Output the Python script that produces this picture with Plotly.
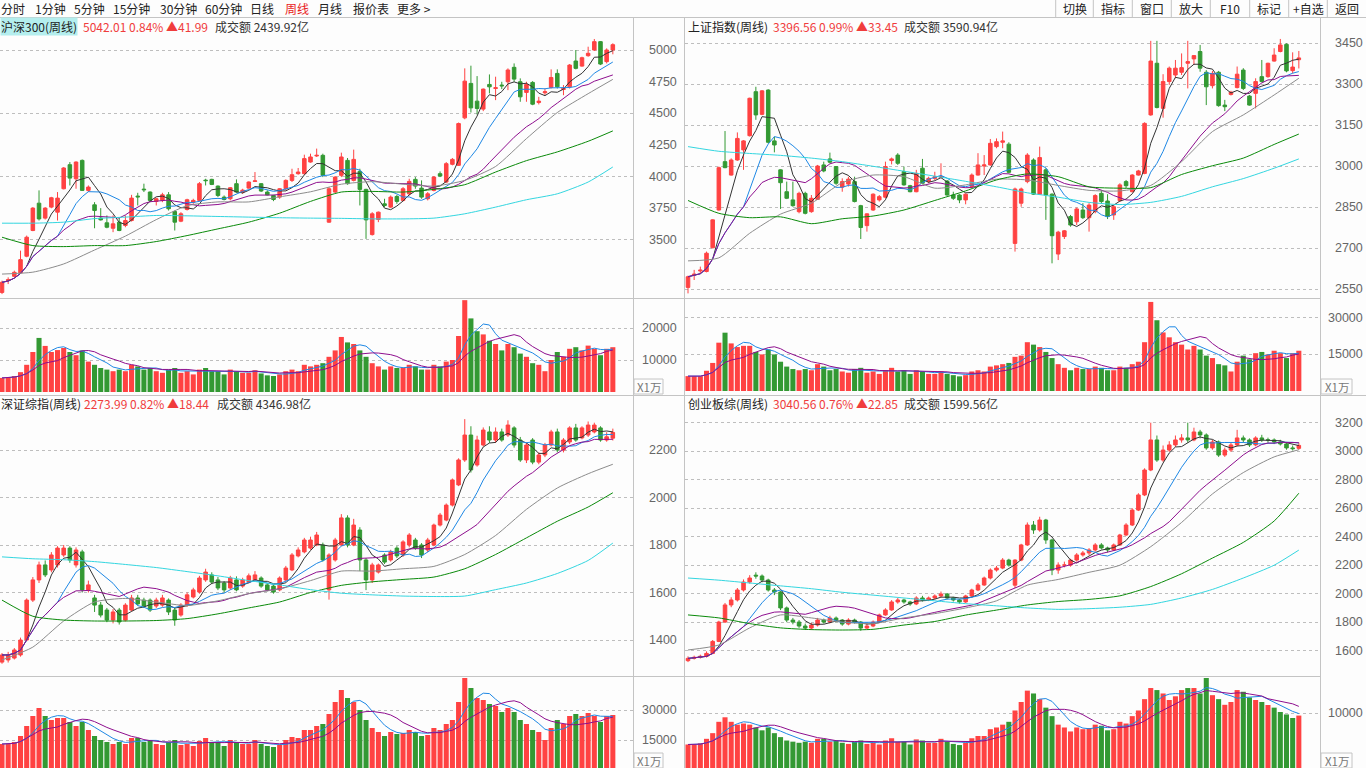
import plotly.graph_objects as go
import pandas as pd

W, H = 1366, 768

# ---------------- 沪深300 (top-left) ----------------
hs_open = [3085,3178,3212,3239,3371,3574,3790,3672,3759,3719,3904,4094,3983,4128,3891,3777,3672,3635,3592,3640,
           3614,3653,3846,3901,3878,3804,3812,3856,3724,3648,3740,3798,3812,3972,3978,3925,3838,3825,3944,3878,
           3909,3962,3944,3878,3851,3838,3904,3970,4023,4023,4115,4163,4168,3640,3878,4010,4128,3970,4041,3899,
           3542,3661,3785,3759,3843,3812,3864,3978,3909,3825,3891,4023,3957,4097,4089,4464,4736,4596,4533,4728,
           4696,4723,4749,4863,4749,4665,4744,4585,4662,4704,4815,4688,4709,4913,4873,4955,5000,5066,4908,5000]
hs_high = [3178,3204,3257,3415,3534,3759,3891,3759,3840,3878,4075,4115,4120,4135,3930,3798,3751,3693,3693,3680,
           3693,3856,3872,3944,3883,3833,3872,3878,3732,3719,3825,3825,3957,3983,3983,3930,3851,3917,3978,3904,
           3962,4036,3949,3891,3856,3909,3978,4062,4068,4173,4181,4221,4181,3917,4004,4189,4147,4213,4062,3904,
           3719,3724,3825,3851,3856,3917,3983,3996,3970,3878,4004,4041,4115,4147,4427,4855,4876,4794,4696,4807,
           4789,4749,4855,4894,4776,4749,4754,4630,4696,4847,4847,4723,4889,5000,4947,5026,5087,5071,5013,5053]
hs_low = [3072,3151,3204,3235,3363,3569,3653,3661,3750,3653,3899,3930,3904,3886,3878,3592,3653,3592,3561,3569,
          3600,3645,3772,3878,3798,3772,3798,3732,3574,3640,3732,3785,3806,3930,3933,3838,3812,3812,3872,3864,
          3904,3957,3878,3851,3806,3825,3891,3957,4015,4015,4110,4155,3996,3635,3870,3996,3936,3962,3772,3508,
          3534,3640,3759,3751,3785,3804,3851,3904,3825,3812,3883,3996,3949,4089,4084,4453,4506,4490,4517,4657,
          4604,4691,4683,4749,4591,4591,4564,4570,4643,4696,4696,4643,4696,4847,4868,4947,4992,4881,4894,4966]
hs_close = [3165,3185,3244,3344,3521,3751,3666,3751,3833,3830,4068,3988,4115,3891,3917,3732,3658,3600,3627,3574,
            3653,3830,3840,3896,3812,3825,3856,3746,3640,3706,3817,3812,3944,3968,3938,3851,3819,3912,3878,3893,
            3957,3966,3886,3856,3819,3904,3970,4015,4036,4142,4155,4168,4010,3904,3996,4155,3944,4136,3899,3658,
            3706,3719,3772,3838,3804,3904,3962,3925,3838,3864,3996,4004,4102,4136,4419,4754,4543,4538,4691,4709,
            4702,4717,4842,4770,4630,4728,4572,4596,4670,4783,4709,4696,4881,4855,4939,4974,5066,4889,5000.02,5042.01]
hs_vol = [4400,4600,5000,6200,8500,12500,16900,14400,12500,13100,13750,12500,11500,13000,9500,8500,7500,7000,6500,7000,
          6500,8500,8000,7000,7500,6500,6000,7000,7500,6000,6500,5500,7000,7500,6500,6500,5500,7000,6500,6000,
          6000,6800,5800,5200,5000,5500,6500,7000,6500,8500,8000,8500,9000,11000,13000,17200,15500,15000,13000,11000,
          9000,8000,7000,8000,7500,7500,8500,8000,7000,7000,8500,8000,9500,10000,17500,28700,23000,19000,18000,16000,
          15000,13000,15000,14000,12000,11000,9000,8500,6500,10000,12500,11000,13500,14000,13000,14500,13500,11500,13500,14000]

# sampled long moving averages (every 5th week + last)
ma_idx = [0,5,10,15,20,25,30,35,40,45,50,55,60,65,70,75,80,85,90,95,99]
hs_ma30 = [3230,3245,3310,3420,3530,3660,3770,3800,3800,3840,3880,3940,3960,3940,3925,3970,4080,4300,4506,4655,4768]
hs_ma60 = [3521,3455,3447,3455,3455,3487,3534,3587,3640,3711,3804,3878,3883,3878,3899,3936,4036,4126,4195,4279,4361]
hs_ma120 = [3632,3632,3640,3668,3680,3693,3690,3685,3680,3675,3672,3670,3666,3666,3672,3706,3759,3817,3864,3957,4076]

# ---------------- 上证指数 (top-right) ----------------
sh_open = [2557,2602,2617,2615,2702,2840,3017,2968,3023,3060,3112,3273,3190,3279,3093,2987,2907,2877,2834,2901,
           2834,2879,3005,3027,2999,2924,2935,2944,2856,2783,2840,2877,2887,3021,3041,2981,2929,2907,2993,2944,
           2956,2960,2946,2895,2895,2877,2926,2968,3001,3005,3072,3088,3081,2718,2865,2944,3023,2898,2987,2898,
           2679,2743,2816,2797,2840,2812,2834,2901,2873,2822,2874,2944,2907,2968,2974,3188,3377,3212,3310,3334,
           3344,3377,3393,3420,3344,3295,3344,3224,3263,3288,3352,3257,3267,3328,3328,3385,3420,3446,3350,3390]
sh_high = [2600,2621,2633,2688,2806,2999,3129,3029,3124,3096,3251,3291,3279,3282,3108,2989,2944,2944,2907,2907,
           2895,3005,3017,3050,3001,2956,2962,2962,2859,2828,2901,2895,3017,3032,3048,2999,2932,2987,3027,2962,
           2980,3011,2950,2907,2898,2901,2974,3048,3041,3100,3102,3127,3088,2922,2922,3048,3029,3072,2993,2901,
           2764,2767,2822,2849,2865,2865,2898,2913,2898,2858,2938,2950,2971,2987,3161,3459,3459,3337,3365,3389,
           3413,3459,3407,3444,3352,3349,3349,3243,3276,3365,3359,3261,3322,3389,3379,3432,3466,3450,3417,3422]
sh_low = [2535,2584,2609,2612,2700,2838,2993,2966,3020,2987,3109,3170,3187,3084,3051,2844,2880,2852,2828,2824,
          2830,2877,2978,3011,2932,2907,2926,2868,2734,2761,2837,2871,2883,3007,3005,2929,2905,2905,2934,2938,
          2950,2956,2893,2877,2865,2861,2920,2966,2968,3002,3066,3066,2974,2688,2852,2938,2895,2895,2804,2645,
          2657,2734,2779,2785,2807,2761,2828,2865,2807,2804,2871,2920,2905,2966,2971,3185,3212,3178,3298,3322,
          3334,3285,3371,3346,3224,3285,3218,3202,3259,3285,3279,3222,3212,3307,3324,3383,3417,3344,3340,3358]
sh_close = [2596,2605,2620,2682,2804,2995,2995,3023,3102,3093,3249,3188,3276,3088,3078,2940,2883,2856,2901,2828,
            2883,3001,2983,3015,2938,2944,2953,2871,2776,2826,2898,2889,2999,3027,3011,2932,2907,2974,2938,2956,
            2962,2962,2895,2883,2877,2898,2968,3005,3005,3084,3090,3093,2978,2917,2917,3041,2898,3032,2895,2746,
            2759,2764,2785,2844,2812,2858,2893,2871,2816,2852,2932,2929,2968,2983,3157,3385,3215,3310,3359,3359,
            3361,3383,3405,3359,3291,3340,3222,3218,3271,3337,3285,3224,3310,3310,3377,3407,3444,3349,3363.11,3396.56]
sh_vol = [6100,6100,6100,8300,11500,19800,23900,19500,18000,18500,18500,16000,15000,17000,15000,12000,10000,9000,8500,9000,
          8500,11000,10000,8500,9000,8000,7500,9000,9500,7500,8000,7000,8500,9500,8000,8500,7000,8500,8000,7000,
          7000,8000,7000,6500,6000,6500,8000,8500,8000,10000,10500,11000,11500,14000,14500,20000,19000,18000,16000,13500,
          11000,9500,8500,9500,9000,9000,10000,9500,8500,8500,10000,9500,11000,12000,20000,36500,29000,24000,22000,20000,
          19000,17000,18500,17000,14500,13500,11000,10500,8000,12000,14500,13000,15500,16000,15000,16500,15500,13500,15500,16500]
sh_ma30 = [2654,2665,2755,2825,2865,2940,2968,2962,2920,2932,2953,2950,2930,2912,2910,2930,3017,3127,3188,3261,3322]
sh_ma60 = [2875,2828,2812,2815,2790,2808,2818,2840,2875,2910,2950,2972,2962,2925,2920,2922,2970,3002,3030,3080,3118]
sh_ma120 = [3072,3055,3047,3040,3030,3017,3000,2982,2964,2945,2925,2903,2887,2868,2860,2868,2890,2925,2955,2993,3027]

# ---------------- 深证综指 (bottom-left) ----------------
sz_open = [1307,1316,1324,1337,1400,1568,1653,1716,1695,1716,1758,1787,1716,1771,1611,1577,1547,1526,1484,1526,
           1484,1526,1577,1568,1568,1543,1547,1568,1526,1505,1547,1581,1602,1653,1674,1653,1640,1619,1653,1627,
           1644,1653,1661,1632,1627,1611,1653,1695,1754,1771,1787,1800,1800,1611,1737,1800,1914,1800,1863,1737,
           1653,1686,1758,1737,1787,1758,1800,1821,1800,1779,1800,1884,1905,1968,2053,2158,2263,2137,2221,2276,
           2242,2276,2263,2293,2242,2158,2242,2149,2179,2221,2276,2200,2234,2293,2251,2263,2276,2293,2242,2250]
sz_high = [1345,1350,1366,1410,1575,1665,1730,1735,1770,1795,1800,1795,1790,1780,1650,1590,1560,1535,1530,1535,
           1555,1590,1590,1578,1575,1578,1590,1575,1535,1555,1600,1620,1670,1700,1685,1665,1648,1670,1668,1662,
           1680,1690,1668,1640,1632,1668,1712,1766,1790,1830,1835,1855,1810,1765,1830,1930,1925,1910,1875,1745,
           1725,1722,1765,1780,1795,1820,1850,1830,1808,1830,1890,1935,1975,2080,2165,2330,2300,2260,2295,2300,
           2295,2290,2325,2300,2255,2230,2250,2190,2230,2285,2290,2250,2300,2310,2300,2320,2315,2300,2275,2290]
sz_low = [1300,1305,1318,1330,1395,1560,1640,1665,1685,1705,1750,1725,1705,1600,1600,1518,1495,1475,1470,1465,
          1478,1520,1545,1535,1518,1535,1540,1505,1460,1498,1540,1575,1595,1645,1635,1610,1600,1612,1605,1620,
          1638,1648,1620,1605,1595,1605,1648,1690,1748,1765,1780,1795,1730,1570,1730,1795,1790,1795,1690,1610,
          1640,1680,1720,1730,1745,1750,1790,1780,1745,1770,1795,1878,1900,1962,2048,2150,2105,2130,2215,2230,
          2230,2235,2255,2210,2150,2145,2140,2140,2170,2215,2190,2190,2225,2235,2245,2255,2270,2235,2235,2240]
sz_close = [1337,1337,1358,1400,1568,1653,1716,1674,1758,1787,1787,1737,1779,1611,1632,1547,1505,1484,1518,1476,
            1547,1577,1552,1543,1526,1568,1577,1518,1484,1547,1590,1611,1661,1686,1644,1619,1611,1661,1611,1653,
            1670,1674,1627,1611,1602,1661,1703,1758,1779,1821,1821,1842,1737,1758,1821,1914,1800,1884,1737,1653,
            1716,1716,1728,1771,1754,1813,1842,1787,1758,1821,1884,1926,1968,2074,2158,2263,2116,2242,2284,2242,
            2276,2242,2305,2221,2158,2221,2149,2179,2221,2276,2200,2242,2293,2242,2293,2305,2305,2242,2255.55,2273.99]
sz_vol = [13000,13000,14000,17000,22000,27000,31000,27000,25000,26000,26000,24000,22000,24000,20000,17000,15000,14000,13000,14000,
          13000,16000,16000,14000,15000,13000,12500,14000,15000,12500,13000,12000,14500,16000,14000,14000,12000,15000,14000,13000,
          13000,15000,13000,12000,11500,12500,15000,16500,16000,20000,20000,22000,23000,28000,34000,40000,36000,34000,30000,25000,
          21000,19000,17000,19000,18000,18500,20000,19000,17000,17500,21000,20000,23000,25000,34000,46000,41000,36000,35000,33000,
          32000,29000,31000,29000,25000,23000,20000,19000,15000,21000,25000,23000,27000,28000,27000,28500,27000,24000,27000,27500]
sz_ma30 = [1316,1370,1480,1560,1575,1560,1545,1565,1595,1615,1650,1690,1690,1700,1710,1760,1840,1950,2040,2100,2140]
sz_ma60 = [1568,1500,1484,1480,1480,1482,1490,1510,1535,1560,1600,1630,1645,1655,1665,1700,1760,1830,1900,1960,2020]
sz_ma120 = [1750,1742,1738,1730,1718,1705,1688,1670,1650,1632,1612,1597,1590,1585,1583,1585,1612,1640,1680,1735,1808]

# ---------------- 创业板综 (bottom-right) ----------------
cy_open = [1530,1546,1553,1560,1581,1665,1801,1921,1956,2026,2082,2130,2124,2096,2026,2012,1900,1815,1801,1773,
           1759,1780,1815,1801,1829,1815,1787,1815,1801,1759,1773,1801,1851,1886,1942,1956,1942,1928,1970,1956,
           1970,1984,1998,1970,1956,1942,1984,2026,2061,2110,2166,2180,2236,2060,2236,2342,2482,2447,2517,2377,
           2166,2201,2201,2236,2272,2286,2307,2342,2321,2307,2342,2412,2482,2587,2693,2868,3079,2938,3008,3044,
           3079,3093,3079,3135,3114,3023,3065,2973,3008,3044,3093,3079,3044,3093,3079,3079,3065,3051,3023,3020]
cy_high = [1560,1565,1572,1595,1675,1810,1935,1975,2040,2100,2130,2150,2135,2105,2040,2020,1910,1830,1815,1790,
           1795,1830,1825,1845,1840,1822,1828,1825,1808,1790,1812,1860,1898,1955,1972,1965,1950,1982,1985,1980,
           1995,2015,2005,1978,1962,1992,2035,2075,2120,2178,2195,2250,2245,2242,2350,2500,2510,2540,2525,2385,
           2220,2225,2245,2285,2300,2320,2355,2355,2330,2352,2420,2495,2600,2705,2880,3200,3110,3040,3070,3110,
           3120,3200,3165,3150,3125,3080,3075,3025,3060,3150,3110,3090,3105,3115,3095,3090,3080,3065,3040,3060]
cy_low = [1520,1538,1545,1552,1575,1660,1795,1905,1945,2015,2070,2105,2080,2015,1990,1885,1800,1785,1760,1745,
          1745,1770,1790,1792,1800,1775,1778,1790,1740,1750,1765,1795,1845,1880,1930,1930,1915,1920,1945,1948,
          1962,1975,1960,1945,1930,1935,1978,2018,2055,2100,2155,2172,2190,2040,2228,2335,2420,2435,2350,2130,
          2140,2185,2190,2225,2260,2270,2295,2310,2290,2300,2335,2405,2475,2580,2685,2860,2925,2925,2995,3030,
          3060,3060,3070,3090,3010,3010,2960,2960,2995,3035,3060,3030,3035,3065,3060,3050,3040,3010,3005,3010]
cy_close = [1546,1553,1560,1581,1665,1801,1921,1956,2026,2082,2110,2124,2096,2026,2012,1900,1815,1801,1773,1759,
            1780,1815,1801,1829,1815,1787,1815,1801,1759,1773,1801,1851,1886,1942,1956,1942,1928,1970,1956,1970,
            1984,1998,1970,1956,1942,1984,2026,2061,2110,2166,2180,2236,2201,2236,2342,2482,2447,2517,2377,2166,
            2201,2201,2236,2272,2286,2307,2342,2321,2307,2342,2412,2482,2587,2693,2868,3079,2938,3008,3044,3079,
            3093,3079,3135,3114,3023,3065,2973,3008,3044,3093,3079,3044,3093,3079,3079,3065,3051,3023,3017.71,3040.56]
cy_vol = [4500,4500,4700,5500,6500,8500,9300,8500,8000,8200,8000,7500,7000,7500,6500,5800,5200,5000,4800,5000,
          4800,5500,5500,5000,5200,4800,4600,5000,5200,4600,4800,4500,5200,5600,5000,5000,4500,5400,5200,4800,
          4800,5500,5000,4600,4400,4800,5600,6000,6000,7200,7500,8000,8500,10500,12000,14000,13500,12500,11000,9500,
          8000,7500,6800,7500,7200,7400,8000,7800,7000,7200,8500,8200,9500,10500,12500,14460,14100,13500,12350,13000,
          14100,14460,14460,13500,16230,13200,12500,11500,12000,14100,13800,12800,12350,12000,11470,11000,10230,9800,9170,9600]
cy_ma30 = [1605,1640,1760,1851,1830,1800,1790,1830,1860,1900,1950,2060,2100,2150,2200,2330,2500,2700,2850,2960,3010]
cy_ma60 = [1851,1830,1790,1760,1748,1745,1750,1780,1805,1850,1885,1921,1945,1960,1985,2050,2140,2250,2360,2510,2705]
cy_ma120 = [2110,2095,2075,2055,2035,2010,1990,1970,1950,1930,1915,1900,1890,1895,1905,1925,1970,2030,2110,2200,2306]

RED = "#FF4242"
GREEN = "#339933"
MA_COLORS = {"ma5": "#333333", "ma10": "#1E88E5", "ma20": "#8E0E8E",
             "ma30": "#8C8C8C", "ma60": "#0A8A0A", "ma120": "#33D6E0"}
GRID = "#BEBEBE"
LINE = "#C4C4C4"
AXIS_TXT = "#666666"
FONT = "Noto Sans CJK SC"


def px_x(x):
    return x / W


def px_y(y):
    return 1 - y / H


fig = go.Figure()

panels = [
    dict(o=hs_open, h=hs_high, l=hs_low, c=hs_close, v=hs_vol, ma30=hs_ma30, ma60=hs_ma60, ma120=hs_ma120,
         ax=1, xdom=(0, 633), first=2.0, my=(35, 297), vy=(299, 392),
         mrange=(3048.9, 5118.5), vrange=(0, 29062),
         labx=679, ticks=[3500, 3750, 4000, 4250, 4500, 4750, 5000], grid=[3500, 4000, 4500, 5000],
         vticks=[10000, 20000]),
    dict(o=sh_open, h=sh_high, l=sh_low, c=sh_close, v=sh_vol, ma30=sh_ma30, ma60=sh_ma60, ma120=sh_ma120,
         ax=3, xdom=(685, 1320), first=688.0, my=(35, 297), vy=(299, 391),
         mrange=(2521.8, 3480.4), vrange=(0, 37700),
         labx=1365, ticks=[2550, 2700, 2850, 3000, 3150, 3300, 3450], grid=[2550, 2700, 2850, 3000, 3150, 3300, 3450],
         vticks=[15000, 30000]),
    dict(o=sz_open, h=sz_high, l=sz_low, c=sz_close, v=sz_vol, ma30=sz_ma30, ma60=sz_ma60, ma120=sz_ma120,
         ax=5, xdom=(0, 633), first=2.0, my=(413, 676), vy=(677, 768),
         mrange=(1248.4, 2355.8), vrange=(1000, 46500),
         labx=679, ticks=[1400, 1600, 1800, 2000, 2200], grid=[1400, 1600, 1800, 2000, 2200],
         vticks=[15000, 30000]),
    dict(o=cy_open, h=cy_high, l=cy_low, c=cy_close, v=cy_vol, ma30=cy_ma30, ma60=cy_ma60, ma120=cy_ma120,
         ax=7, xdom=(685, 1320), first=688.0, my=(413, 676), vy=(677, 768),
         mrange=(1422.4, 3268.1), vrange=(353, 16405),
         labx=1365, ticks=[1600, 1800, 2000, 2200, 2400, 2600, 2800, 3000, 3200],
         grid=[1600, 1800, 2000, 2200, 2400, 2600, 2800, 3000, 3200],
         vticks=[10000]),
]

SPACING = 6.17
annotations = []
layout_axes = {}

for p in panels:
    n = len(p["c"])
    idx = list(range(n))
    ma_main = p["ax"]
    ma_vol = p["ax"] + 1
    xa_m = "x" if ma_main == 1 else f"x{ma_main}"
    ya_m = "y" if ma_main == 1 else f"y{ma_main}"
    xa_v = f"x{ma_vol}"
    ya_v = f"y{ma_vol}"

    fig.add_trace(go.Candlestick(
        x=idx, open=p["o"], high=p["h"], low=p["l"], close=p["c"],
        increasing=dict(line=dict(color=RED, width=1), fillcolor=RED),
        decreasing=dict(line=dict(color=GREEN, width=1), fillcolor=GREEN),
        whiskerwidth=0, xaxis=xa_m, yaxis=ya_m, hoverinfo="skip", showlegend=False))

    close = pd.Series(p["c"])
    for win, key in [(5, "ma5"), (10, "ma10"), (20, "ma20")]:
        fig.add_trace(go.Scatter(x=idx, y=close.rolling(win, min_periods=1).mean(), mode="lines",
                                 line=dict(color=MA_COLORS[key], width=1), xaxis=xa_m, yaxis=ya_m,
                                 hoverinfo="skip", showlegend=False))
    for key in ["ma30", "ma60", "ma120"]:
        fig.add_trace(go.Scatter(x=ma_idx, y=p[key], mode="lines",
                                 line=dict(color=MA_COLORS[key], width=1, shape="spline", smoothing=0.6),
                                 xaxis=xa_m, yaxis=ya_m, hoverinfo="skip", showlegend=False))

    vcolors = [RED if c >= o else GREEN for o, c in zip(p["o"], p["c"])]
    fig.add_trace(go.Bar(x=idx, y=p["v"], marker=dict(color=vcolors, line=dict(width=0)),
                         xaxis=xa_v, yaxis=ya_v, hoverinfo="skip", showlegend=False))
    vol = pd.Series(p["v"])
    fig.add_trace(go.Scatter(x=idx, y=vol.rolling(5, min_periods=1).mean(), mode="lines",
                             line=dict(color=MA_COLORS["ma10"], width=1), xaxis=xa_v, yaxis=ya_v,
                             hoverinfo="skip", showlegend=False))
    fig.add_trace(go.Scatter(x=idx, y=vol.rolling(10, min_periods=1).mean(), mode="lines",
                             line=dict(color=MA_COLORS["ma20"], width=1), xaxis=xa_v, yaxis=ya_v,
                             hoverinfo="skip", showlegend=False))

    x0, x1 = p["xdom"]
    xr = ((x0 - p["first"]) / SPACING, (x1 - p["first"]) / SPACING)
    xdom = [px_x(x0), px_x(x1)]
    common_x = dict(domain=xdom, range=list(xr), showgrid=False, zeroline=False, showticklabels=False,
                    showline=False, ticks="", fixedrange=True, rangeslider=dict(visible=False))
    layout_axes["xaxis" if ma_main == 1 else f"xaxis{ma_main}"] = dict(common_x, anchor=ya_m)
    layout_axes[f"xaxis{ma_vol}"] = dict(common_x, anchor=ya_v)
    layout_axes["yaxis" if ma_main == 1 else f"yaxis{ma_main}"] = dict(
        domain=[px_y(p["my"][1]), px_y(p["my"][0])], range=list(p["mrange"]), anchor=xa_m,
        tickmode="array", tickvals=p["grid"], showticklabels=False, showgrid=True, gridcolor=GRID,
        griddash="dot", gridwidth=1, zeroline=False, showline=False, ticks="", fixedrange=True)
    layout_axes[f"yaxis{ma_vol}"] = dict(
        domain=[px_y(p["vy"][1]), px_y(p["vy"][0])], range=list(p["vrange"]), anchor=xa_v,
        tickmode="array", tickvals=p["vticks"], showticklabels=False, showgrid=True, gridcolor=GRID,
        griddash="dot", gridwidth=1, zeroline=False, showline=False, ticks="", fixedrange=True)

    for t in p["ticks"]:
        annotations.append(dict(x=px_x(p["labx"]), xref="paper", y=t, yref=ya_m, text=str(t),
                                xanchor="right", yanchor="middle", showarrow=False,
                                font=dict(family="Liberation Sans", size=12.5, color=AXIS_TXT)))
    for t in p["vticks"]:
        annotations.append(dict(x=px_x(p["labx"]), xref="paper", y=t, yref=ya_v, text=str(t),
                                xanchor="right", yanchor="middle", showarrow=False,
                                font=dict(family="Liberation Sans", size=12.5, color=AXIS_TXT)))

# ---------------- titles ----------------
titles = [
    ("沪深300(周线)", "5042.01 0.84% ▲41.99", "成交额 2439.92亿", 0, 82, 214, 26.5, True),
    ("上证指数(周线)", "3396.56 0.99% ▲33.45", "成交额 3590.94亿", 687, 772, 903, 26.5, False),
    ("深证综指(周线)", "2273.99 0.82% ▲18.44", "成交额 4346.98亿", 0, 83, 216, 403, False),
    ("创业板综(周线)", "3040.56 0.76% ▲22.85", "成交额 1599.56亿", 687, 772, 903, 403, False),
]
for name, val, amt, xn, xv, xa, yc, hl in titles:
    annotations.append(dict(x=px_x(xn), y=px_y(yc), xref="paper", yref="paper", text=name,
                            xanchor="left", yanchor="middle", showarrow=False,
                            bgcolor="#B4EEEE" if hl else None, borderpad=0,
                            font=dict(family=FONT, size=12, color="#222222")))
    annotations.append(dict(x=px_x(xv), y=px_y(yc), xref="paper", yref="paper", text=val,
                            xanchor="left", yanchor="middle", showarrow=False, borderpad=0,
                            font=dict(family=FONT, size=12, color="#F03C3C")))
    annotations.append(dict(x=px_x(xa), y=px_y(yc), xref="paper", yref="paper", text=amt,
                            xanchor="left", yanchor="middle", showarrow=False, borderpad=0,
                            font=dict(family=FONT, size=12, color="#333333")))

# ---------------- toolbar ----------------
tabs = [("分时", 12.5), ("1分钟", 50), ("5分钟", 89), ("15分钟", 131.5), ("30分钟", 178), ("60分钟", 223.5),
        ("日线", 262), ("周线", 297), ("月线", 330), ("报价表", 370.5), ("更多 >", 413.5)]
for t, xc in tabs:
    annotations.append(dict(x=px_x(xc), y=px_y(8.3), xref="paper", yref="paper", text=t,
                            xanchor="center", yanchor="middle", showarrow=False, borderpad=0,
                            font=dict(family=FONT, size=12, color="#E8201A" if t == "周线" else "#222222")))
btn_edges = [1055.7, 1093.3, 1132.3, 1171.3, 1210.3, 1249.7, 1288.7, 1327.3, 1366]
btns = ["切换", "指标", "窗口", "放大", "F10", "标记", "+自选", "返回"]
for i, b in enumerate(btns):
    xc = (btn_edges[i] + btn_edges[i + 1]) / 2
    annotations.append(dict(x=px_x(xc), y=px_y(8.3), xref="paper", yref="paper", text=b,
                            xanchor="center", yanchor="middle", showarrow=False, borderpad=0,
                            font=dict(family=FONT, size=12, color="#222222")))

# X1万 labels
xbox = [(634, 379, 663, 394), (1321, 379, 1352, 394), (634, 753, 663, 768), (1321, 753, 1352, 768)]
for (bx0, by0, bx1, by1) in xbox:
    annotations.append(dict(x=px_x((bx0 + bx1) / 2), y=px_y((by0 + by1) / 2), xref="paper",
                            yref="paper", text="X1万", xanchor="center", yanchor="middle", showarrow=False,
                            borderpad=0, font=dict(family=FONT, size=11.5, color="#777777")))

shapes = []


def hline(y, x0, x1):
    shapes.append(dict(type="line", xref="paper", yref="paper", x0=px_x(x0), x1=px_x(x1),
                       y0=px_y(y), y1=px_y(y), line=dict(color=LINE, width=1)))


def vline(x, y0, y1):
    shapes.append(dict(type="line", xref="paper", yref="paper", x0=px_x(x), x1=px_x(x),
                       y0=px_y(y0), y1=px_y(y1), line=dict(color=LINE, width=1)))


hline(17.5, 0, 1366)
hline(298.5, 0, 1320.5)
hline(395.5, 0, 1366)
hline(676.5, 0, 1320.5)
vline(633.5, 17.5, 768)
vline(684.5, 17.5, 768)
vline(1320.5, 17.5, 768)
for e in btn_edges[:-1]:
    vline(e, 0, 17.5)
for (bx0, by0, bx1, by1) in xbox:
    shapes.append(dict(type="rect", xref="paper", yref="paper", x0=px_x(bx0), x1=px_x(bx1),
                       y0=px_y(by1), y1=px_y(by0), line=dict(color=LINE, width=1)))

fig.update_layout(
    width=W, height=H, margin=dict(l=0, r=0, t=0, b=0),
    paper_bgcolor="#FDFDFD", plot_bgcolor="rgba(0,0,0,0)",
    showlegend=False, boxgap=0.18, bargap=0.18,
    annotations=annotations, shapes=shapes, hovermode=False,
    **layout_axes,
)

fig.write_html("out.html", config={"displayModeBar": False},
               post_script="document.body.style.margin='0';document.body.style.padding='0';"
                           "document.body.style.overflow='hidden';")
